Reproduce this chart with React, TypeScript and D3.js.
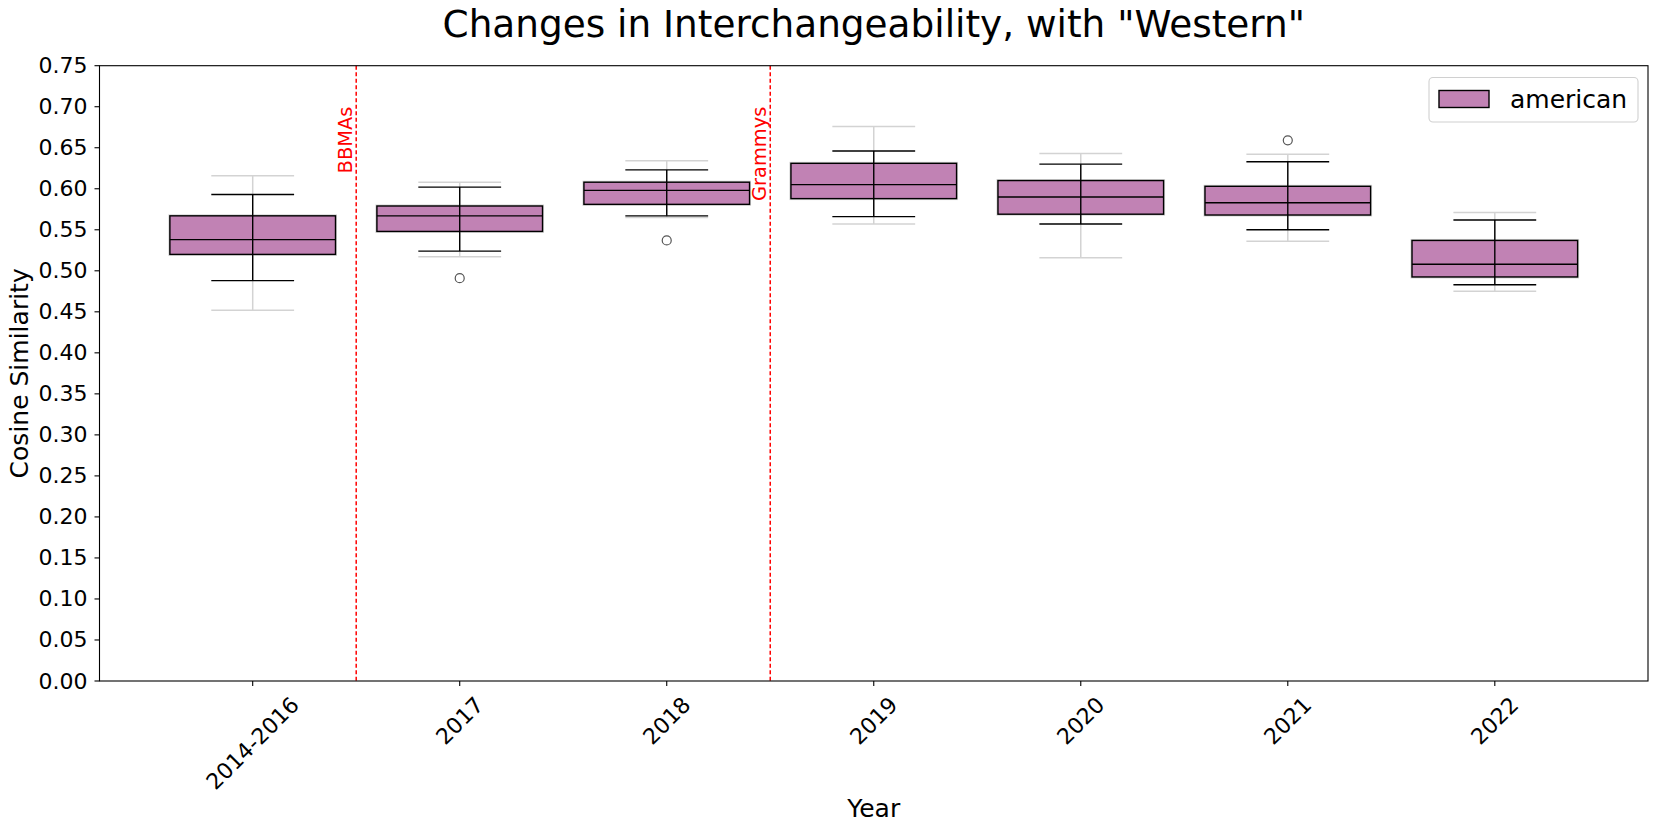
import * as React from 'react';
import * as d3 from 'd3';

const years = ['2014-2016', '2017', '2018', '2019', '2020', '2021', '2022'];

// full range (light grey whiskers)
const minVals = [0.452, 0.517, 0.565, 0.557, 0.516, 0.536, 0.475];
const maxVals = [0.616, 0.608, 0.634, 0.676, 0.643, 0.642, 0.571];
// regular box plot
const whiskerLow = [0.488, 0.524, 0.567, 0.566, 0.557, 0.55, 0.483];
const q1 = [0.52, 0.548, 0.581, 0.588, 0.569, 0.568, 0.4925];
const medians = [0.538, 0.567, 0.598, 0.605, 0.59, 0.583, 0.508];
const q3 = [0.567, 0.579, 0.608, 0.631, 0.61, 0.603, 0.537];
const whiskerHigh = [0.593, 0.602, 0.623, 0.646, 0.63, 0.633, 0.562];
const outliers: [number, number][] = [
  [1, 0.491],
  [2, 0.537],
  [5, 0.659],
];

const events = [
  { at: 0.5, label: 'BBMAs' },
  { at: 2.5, label: 'Grammys' },
];

const yTicks = d3.range(0, 0.7501, 0.05);

const width = 1659;
const height = 831;
const plot = { left: 99.5, right: 1648, top: 65.7, bottom: 681 };

const boxColor = '#c182b4';
const font = 'DejaVu Sans, sans-serif';

const App: React.FC = () => {
  const x = d3.scaleLinear([-0.74, 6.74], [plot.left, plot.right]);
  const y = d3.scaleLinear([0, 0.75], [plot.bottom, plot.top]);
  const boxHalf = x(0.4) - x(0);
  const capHalf = x(0.2) - x(0);
  const tickFont = 22;

  return (
    <svg
      width={width}
      height={height}
      viewBox={`0 0 ${width} ${height}`}
      style={{ position: 'absolute', left: 0, top: 0, display: 'block', background: '#fff' }}
      fontFamily={font}
    >
      {/* title */}
      <text x={(plot.left + plot.right) / 2} y={37} fontSize={37.4} textAnchor="middle">
        Changes in Interchangeability, with "Western"
      </text>

      {/* boxes */}
      {years.map((yr, i) => {
        const cx = x(i);
        return (
          <g key={yr}>
            {/* grey full-range layer */}
            <line x1={cx} x2={cx} y1={y(minVals[i])} y2={y(maxVals[i])} stroke="#d3d3d3" strokeWidth={1.5} />
            <line x1={cx - capHalf} x2={cx + capHalf} y1={y(minVals[i])} y2={y(minVals[i])} stroke="#d3d3d3" strokeWidth={1.5} />
            <line x1={cx - capHalf} x2={cx + capHalf} y1={y(maxVals[i])} y2={y(maxVals[i])} stroke="#d3d3d3" strokeWidth={1.5} />
            <rect
              x={cx - boxHalf}
              y={y(q3[i])}
              width={2 * boxHalf}
              height={y(q1[i]) - y(q3[i])}
              fill="none"
              stroke="#d3d3d3"
              strokeWidth={3}
            />
            {/* black box plot */}
            <line x1={cx} x2={cx} y1={y(whiskerLow[i])} y2={y(q1[i])} stroke="#000" strokeWidth={1.4} />
            <line x1={cx} x2={cx} y1={y(q3[i])} y2={y(whiskerHigh[i])} stroke="#000" strokeWidth={1.4} />
            <line x1={cx - capHalf} x2={cx + capHalf} y1={y(whiskerLow[i])} y2={y(whiskerLow[i])} stroke="#000" strokeWidth={1.4} />
            <line x1={cx - capHalf} x2={cx + capHalf} y1={y(whiskerHigh[i])} y2={y(whiskerHigh[i])} stroke="#000" strokeWidth={1.4} />
            <rect
              x={cx - boxHalf}
              y={y(q3[i])}
              width={2 * boxHalf}
              height={y(q1[i]) - y(q3[i])}
              fill={boxColor}
              stroke="#000"
              strokeWidth={1.4}
            />
            <line x1={cx} x2={cx} y1={y(q3[i])} y2={y(q1[i])} stroke="#000" strokeWidth={1.4} />
            <line x1={cx - boxHalf} x2={cx + boxHalf} y1={y(medians[i])} y2={y(medians[i])} stroke="#000" strokeWidth={1.4} />
          </g>
        );
      })}

      {outliers.map(([i, v]) => (
        <circle key={`o${i}`} cx={x(i)} cy={y(v)} r={4.5} fill="none" stroke="#555" strokeWidth={1.2} />
      ))}

      {/* event lines */}
      {events.map((e) => (
        <g key={e.label}>
          <line
            x1={x(e.at)}
            x2={x(e.at)}
            y1={plot.top}
            y2={plot.bottom}
            stroke="red"
            strokeWidth={1.5}
            strokeDasharray="4,2.5"
          />
          <text
            transform={`translate(${x(e.at) - 4}, ${y(0.7)}) rotate(-90)`}
            fontSize={19.4}
            fill="red"
            textAnchor="end"
          >
            {e.label}
          </text>
        </g>
      ))}

      {/* frame */}
      <rect
        x={plot.left}
        y={plot.top}
        width={plot.right - plot.left}
        height={plot.bottom - plot.top}
        fill="none"
        stroke="#000"
        strokeWidth={1.1}
      />

      {/* y axis */}
      {yTicks.map((t) => (
        <g key={t} transform={`translate(0, ${y(t)})`}>
          <line x1={plot.left - 5} x2={plot.left} stroke="#000" strokeWidth={1.1} />
          <text x={plot.left - 12} fontSize={tickFont} textAnchor="end" dominantBaseline="central">
            {d3.format('.2f')(t)}
          </text>
        </g>
      ))}
      <text
        transform={`translate(28, ${(plot.top + plot.bottom) / 2}) rotate(-90)`}
        fontSize={25}
        textAnchor="middle"
      >
        Cosine Similarity
      </text>

      {/* x axis */}
      {years.map((yr, i) => {
        const w = yr.length * 0.636 * tickFont - (yr.includes('-') ? 0.275 * tickFont : 0);
        const bh = (w + 1.16 * tickFont) / Math.SQRT2;
        const cy = plot.bottom + 11 + bh / 2;
        return (
          <g key={yr}>
            <line x1={x(i)} x2={x(i)} y1={plot.bottom} y2={plot.bottom + 5} stroke="#000" strokeWidth={1.1} />
            <text
              transform={`translate(${x(i)}, ${cy}) rotate(-45)`}
              fontSize={tickFont}
              textAnchor="middle"
              dominantBaseline="central"
            >
              {yr}
            </text>
          </g>
        );
      })}
      <text x={(plot.left + plot.right) / 2} y={817} fontSize={25} textAnchor="middle">
        Year
      </text>

      {/* legend */}
      <g>
        <rect x={1429} y={77.5} width={209} height={44.5} rx={4} fill="#fff" fillOpacity={0.8} stroke="#d0d0d0" strokeWidth={1.1} />
        <rect x={1439} y={90.5} width={50} height={17} fill={boxColor} stroke="#000" strokeWidth={1.4} />
        <text x={1510} y={108} fontSize={25}>
          american
        </text>
      </g>
    </svg>
  );
};

export default App;
